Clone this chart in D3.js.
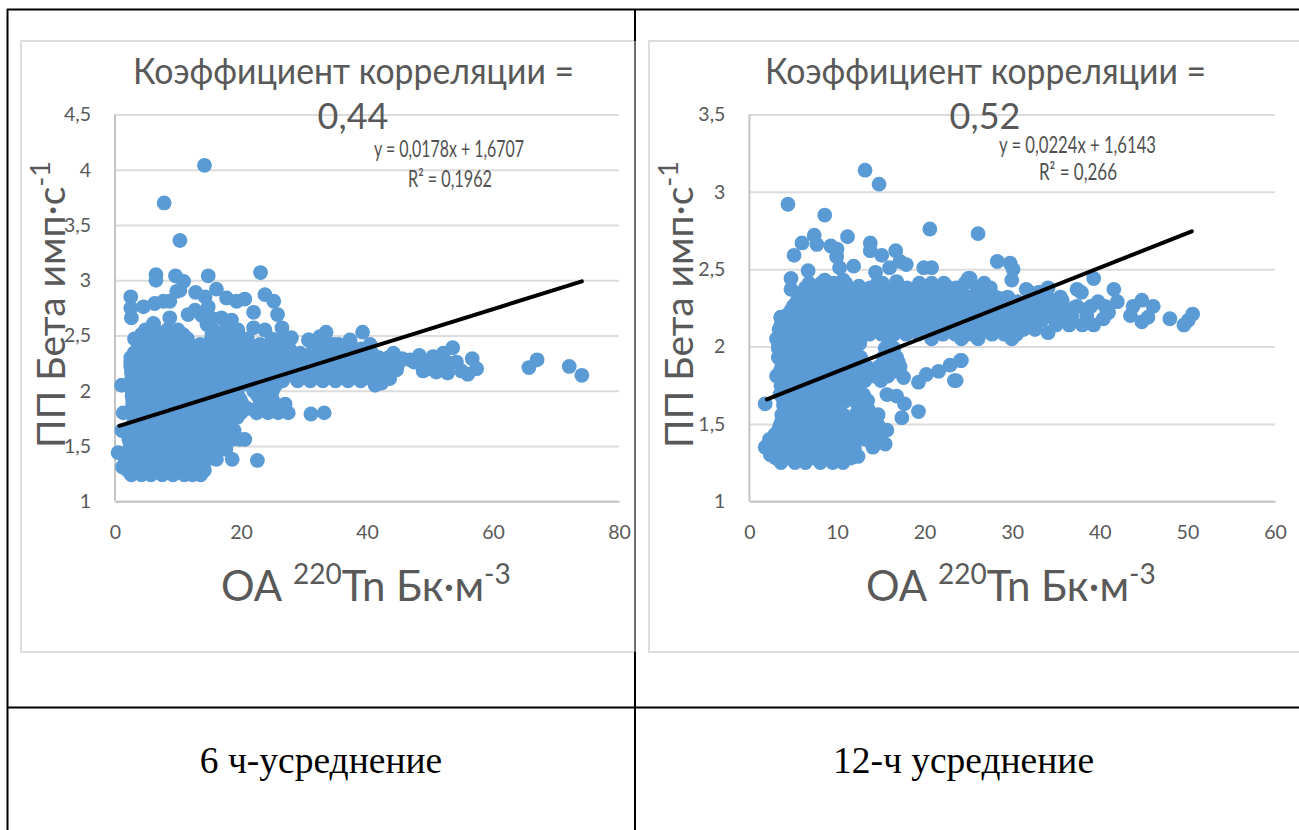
<!DOCTYPE html>
<html lang="ru">
<head>
<meta charset="utf-8">
<script src="https://cdn.jsdelivr.net/npm/d3@7"></script>
<style>
html,body{margin:0;padding:0;background:#fff;overflow:hidden}
svg{display:block}
text{font-family:Lato,"Open Sans",sans-serif;fill:#595959}
</style>
</head>
<body>
<svg id="c" width="1299" height="830"></svg>
<script>
// ---------- Chart 1: 6 h averaging ----------
const xTicks6h = [0,20,40,60,80];
const yTicks6h = [1,1.5,2,2.5,3,3.5,4,4.5];
const trend6h = [[0.7,1.683],[74.1,2.99]];
const outliers6h = [[14.2,4.04],[7.8,3.7],[10.3,3.36],[6.5,3.05],[6.5,3],[9.6,3.04],[14.8,3.04],[23.1,3.07],
[2.5,2.85],[2.5,2.75],[2.6,2.66],[4.5,2.76],[6.3,2.79],[7.7,2.81],[8.7,2.81],[9.8,2.9],[10.9,2.99],[10.3,2.91],
[12.8,2.89],[14.3,2.85],[16.1,2.92],[17.7,2.84],[19.3,2.81],[20.6,2.83],[23.8,2.87],[25.2,2.81],[22,2.71],[25.8,2.69],
[11.6,2.69],[12.7,2.73],[14.8,2.76],[8.7,2.66],[6.1,2.61],[16.9,2.66],[18.5,2.64],[22,2.57],[23.8,2.55],[26.5,2.57],
[28,2.48],[30.7,2.46],[15.2,2.66],[14.6,2.6],[18,2.55],[13.8,2.68],
[74.1,2.14],[72.1,2.22],[67,2.28],[65.7,2.21],[57.4,2.2],[56.7,2.29],[56,2.15],[54.2,2.26],[53.6,2.39],[52.8,2.16],
[51,2.17],[48.9,2.18],[52.1,2.34],[50.5,2.31],[48.3,2.32],[46.8,2.28],[45.6,2.29],[44.2,2.34],[39.3,2.53],[40.5,2.42],
[37.3,2.46],[33.5,2.53],[32.5,2.49],[30.8,2.46],[34.7,2.42],[41.3,2.05],[42.3,2.07],[43.6,2.11],[44.7,2.19],[45,2.25],
[49.5,2.25],[51.5,2.24],[53,2.25],[55,2.18],[47.5,2.26],[50,2.2],
[31.1,1.79],[33.2,1.8],[22.6,1.37],[18.6,1.38],[16.1,1.38],[19.8,1.56],[20.6,1.56],[0.5,1.44]];
const cloud6h = [
[1.24,[2.6,4.2,5.7,7.5,9.2,11,12.3,13.6]],
[1.31,[1.2,3,4.9,6.6,8.5,10.3,12.2,14]],
[1.39,[1.6,3.7,5.6,7.5,9.4,11.3,13.2,15.2]],
[1.47,[2.5,4.5,6.4,8.3,10.2,12.1,14,15.9,17.6]],
[1.56,[2.2,3.6,5.5,7.4,9.3,11.2,13.1,15,16.9,18.6]],
[1.64,[1.1,2.6,4.5,6.4,8.3,10.2,12.1,14,15.9,17.8,18.9]],
[1.72,[3,5,6.9,8.8,10.7,12.6,14.5,16.4,18.3]],
[1.8,[1.3,3,4.7,6.6,8.5,10.4,12.3,14.2,16.1,18,20,22.5,24.3,25.9,27.5]],
[1.88,[2.8,5.6,7.5,9.4,11.3,13.2,15.1,17,18.9,20.2,23,25,27]],
[1.96,[2.7,4.5,6.4,8.3,10.2,12.1,14,15.9,17.8,19.5,22.6,24.2]],
[2.05,[1.05,2.8,4.8,6.7,8.6,10.5,12.4,14.3,16.2,18.1,20,21.9,23.8,25.5]],
[2.13,[2.7,3.9,5.8,7.7,9.6,11.5,13.4,15.3,17.2,19.1,21,22.9,24.8,26.7,28.5,30.2,32,34,36,38,40]],
[2.22,[2.5,4.8,6.7,8.6,10.5,12.4,14.3,16.2,18.1,20,21.9,23.8,25.7,27.6,29.5,31.4,33.3,35.2,37.1,39,40.9,42.6]],
[2.3,[2.5,4,5.8,7.7,9.6,11.5,13.4,15.3,17.2,19.1,21,22.9,24.8,26.7,28.6,30.5,32.4,34.3,36.2,38.1,40,41.9,43.4]],
[2.38,[3.6,5,6.8,8.7,10.6,12.5,14.4,16.3,18.2,20.1,22,23.9,25.8,27.7,31.5,33.4,35.3,37.2,39.1]],
[2.47,[3.1,4.9,5.8,7.7,9.6,11.5,15.3,17.2,19.1,21,24.9,26.3]],
[2.55,[4.8,6.4,8.3,10,15.6,17.5,19.5]]];
const fill6h = [
[1.28,[2,3.8,5.4,7,8.8,10.6,12.4,14.2]],
[1.35,[1.6,2.6,4.6,6.5,8.4,10.3,12.2,14.1]],
[1.43,[1.2,3,5,6.9,8.8,10.7,12.6,14.5]],
[1.52,[2.4,4.2,6.1,8,9.9,11.8,13.7,15.6,17.5]],
[1.6,[2.3,3.4,5.3,7.2,9.1,11,12.9,14.8,16.7,18.2]],
[1.68,[2.7,4.2,6.1,8,9.9,11.8,13.7,15.6,17.5]],
[1.76,[3,4.2,6.1,8,9.9,11.8,13.7,15.6,17.5,19.4]],
[1.84,[2.9,4.2,6.5,8.4,10.3,12.2,14.1,16,17.9,19.6,21,23.9,26.2]],
[1.92,[2.8,4.7,6.6,8.5,10.4,12.3,14.2,16.1,18,19.9,23.6,25]],
[2,[2.7,3.8,5.7,7.6,9.5,11.4,13.3,15.2,17.1,19,22,23.5,25]],
[2.09,[2.6,3.8,5.7,7.6,9.5,11.4,13.3,15.2,17.1,19,20.9,22.8,24.7,26.6,29,31,33,35,37,39,41]],
[2.17,[2.6,5.2,7.1,9,10.9,12.8,14.7,16.6,18.5,20.4,22.3,24.2,26.1,28,29.9,31.8,33.7,35.6,37.5,39.4,41.3,43]],
[2.26,[2.5,3.8,5.7,7.6,9.5,11.4,13.3,15.2,17.1,19,20.9,22.8,24.7,26.6,28.5,30.4,32.3,34.2,36.1,38,39.9,41.8,43.7]],
[2.34,[3,4.7,6.6,8.5,10.4,12.3,14.2,16.1,18,19.9,21.8,23.7,25.6,27.5,29.4,31.3,33.2,35.1,37,38.9,40.8]],
[2.42,[4,5.9,7.8,9.7,11.6,13.5,15.4,17.3,19.2,21.1,23,24.9,26.8,32,33.6,35.5,37.4]],
[2.51,[4.2,6.6,8.5,10.8,15.4,17.3,19.2]]];

// ---------- Chart 2: 12 h averaging ----------
const xTicks12h = [0,10,20,30,40,50,60];
const yTicks12h = [1,1.5,2,2.5,3,3.5];
const trend12h = [[2,1.659],[50.5,2.745]];
const outliers12h = [[13.2,3.14],[14.8,3.05],[4.4,2.92],[8.6,2.85],[20.6,2.76],[7.4,2.72],[6,2.67],[7.7,2.66],[11.2,2.71],
[5.1,2.59],[9.3,2.65],[10,2.63],[9.96,2.58],[13.8,2.67],[13.8,2.62],[15.1,2.59],[16.7,2.62],[17.2,2.55],[17.9,2.53],
[10.3,2.51],[11.9,2.52],[6.7,2.49],[4.75,2.44],[4.75,2.37],[16,2.51],[14.4,2.48],[19.9,2.51],[20.8,2.51],[16.8,2.42],
[12.5,2.39],[8.6,2.43],[10.7,2.43],[25,2.44],[24,2.37],[22.5,2.39],[3.57,2.19],[3.1,2.05],[4.3,2.19],
[26.1,2.73],[28.3,2.55],[29.75,2.54],[30.1,2.5],[29.95,2.43],[39.3,2.44],[41.6,2.37],[42,2.29],[44.8,2.3],[43.8,2.26],
[43.5,2.2],[44.8,2.16],[45.5,2.19],[46.1,2.26],[48,2.18],[50.6,2.21],[49.6,2.14],[50.1,2.17],[40.4,2.18],[39.3,2.14],
[39.8,2.29],[38.5,2.24],[37.4,2.37],[37.9,2.35],[37,2.25],[36.4,2.19],[35.7,2.3],[34.1,2.38],[33.4,2.35],[31.6,2.37],
[34.1,2.09],[33.7,2.19],[25.2,2.44],[26.7,2.37],[27.5,2.35],[28.8,2.31],[40.6,2.26],[41,2.22],[36.2,2.24],
[24.2,1.91],[23.6,1.78],[1.8,1.63],[24.1,1.91],[23.4,1.78],[22.9,1.88],[21.6,1.84],[20.2,1.82],[19.3,1.77],[19.3,1.58],
[17.6,1.8],[17.4,1.54],[17.7,1.63],[16.8,1.68],[15.7,1.69],[12.4,1.29],[15.5,1.37],[14.1,1.35],[15.7,1.46],[14.7,1.56],
[1.8,1.35],[2.4,1.3]];
const cloud12h = [
[1.25,[3.6,5.2,6.4,8.1,9.5,10.7]],
[1.31,[2.5,4.1,5.5,6.9,8.3,9.7,11.1]],
[1.37,[3.4,4.8,6.2,7.6,9,10.4,11.6]],
[1.43,[2.9,4.2,5.6,7,8.4,9.8,11.2,12.6,14,15]],
[1.49,[3.5,4.9,6.3,7.7,9.1,10.5,11.9,13.3,14.7]],
[1.56,[3.7,5.1,6.5,7.9,9.3,10.7,12.1,13.5]],
[1.62,[3.9,5.3,6.7,8.1,9.5,12.4,13.3]],
[1.69,[3.5,4.9,6.3,7.7,9.1,10.5,11.7,13]],
[1.75,[3.6,5,6.4,7.8,9.2,10.6,12.3]],
[1.81,[3.1,4.3,5.7,7.1,8.5,9.9,11.3,12.7,14.3,15.8]],
[1.87,[3.7,5,6.4,7.8,9.2,10.6,12,13.4,14.8,16.2,17.2]],
[1.93,[3.3,4.3,5.7,7.1,8.5,9.9,11.3,12.7,15.3,16.8]],
[1.99,[3.3,5,6.4,7.8,9.2,10.6,12,15.5,16.5]],
[2.05,[3.9,5.3,6.7,8.1,9.5,10.9,12.2,15.9,20.8,24.2,26.1,29.95]],
[2.11,[3.4,4.7,6.1,7.5,8.9,10.3,11.7,13.1,14.5,15.9,17.3,18.7,20.1,21.5,22.9,24.3,25.7,27.1,28.5,29.9,31.3,32.6]],
[2.17,[5.4,6.8,8.2,9.6,11,12.4,13.8,15.2,16.6,18,19.4,20.8,22.2,23.6,25,26.4,27.8,29.2,30.6,32,35,33.4]],
[2.23,[4.7,6.1,7.5,8.9,10.3,11.7,13.1,14.5,15.9,17.3,18.7,20.1,21.5,22.9,24.3,25.7,27.1,28.5,29.9,31.3,32.7,34.1,35.4]],
[2.29,[5.4,6.8,8.2,9.6,11,12.4,13.8,15.2,16.6,18,19.4,20.8,22.2,23.6,25,26.4,27.8,29.2,30.6,32,33.4,34.8]],
[2.35,[6.1,7.5,8.9,10.3,11.7,13.1,14.5,15.9,17.3,18.7,20.1,21.5,22.9,24.3,26,27.1,32,33]],
[2.41,[6.8,8.2,9.6,11,14.6,15.2,19.4,20.8,22.2,24.6,26.8]]];
const fill12h = [
[1.28,[3,4.8,6,7.4,8.8,10.2,11.6]],
[1.34,[2.4,3.9,5.2,6.6,8,9.4,10.8,12]],
[1.4,[2.3,3.6,5,6.4,7.8,9.2,10.6,12,13.2,14.6]],
[1.46,[3.3,4.6,6,7.4,8.8,10.2,11.6,13,14.4]],
[1.52,[3.7,5.6,7,8.4,9.8,11.2,12.6,14]],
[1.59,[4,5.6,7,8.4,9.8,12.8,13.6]],
[1.65,[3.9,5.6,7,8.4,9.8,11,12.2,13.5]],
[1.72,[4.2,5.6,7,8.4,9.8,11.2,12.4]],
[1.78,[3.9,5,6.2,7.6,9,10.4,11.8,13.2,15]],
[1.84,[3.5,5,6.4,7.8,9.2,10.6,12,13.4,14.8,16.4]],
[1.9,[4.4,5.7,7.1,8.5,9.9,11.3,12.2,15.8,17]],
[1.96,[3.8,5,6.4,7.8,9.2,10.6,12,15.8]],
[2.02,[3.3,4.4,5.8,7.2,8.6,10,11.4,12.6]],
[2.08,[3.9,5.3,6.7,8.1,9.5,10.9,12.3,13.7,15.1,16.5,17.9,19.3,20.7,22.1,23.5,24.9,26.3,27.7,29.1,30.5]],
[2.14,[3.6,4.6,6,7.4,8.8,10.2,11.6,13,14.4,15.8,17.2,18.6,20,21.4,22.8,24.2,25.6,27,28.4,29.8,31.2,32.6,35,36.5,38]],
[2.2,[4.2,5.3,6.7,8.1,9.5,10.9,12.3,13.7,15.1,16.5,17.9,19.3,20.7,22.1,23.5,24.9,26.3,27.7,29.1,30.5,31.9,33.3,34.7,36.8,38.5]],
[2.26,[5,6.4,7.8,9.2,10.6,12,13.4,14.8,16.2,17.6,19,20.4,21.8,23.2,24.6,26,27.4,28.8,30.2,31.6,33,34.4,35.8,37.4,39]],
[2.32,[5.7,7.1,8.5,9.9,11.3,12.7,14.1,15.5,16.9,18.3,19.7,21.1,22.5,23.9,25.3,26.7,28.1,29.5,32.5,34,35.5]],
[2.38,[6.4,7.8,9.2,10.6,13.8,15.2,16.6,18,19.4,20.8,22.2,23.6,26,27.5]]];

const rowsToPoints = rows => rows.flatMap(([y, xs]) => xs.map(x => [x, y]));

// ---------- Text ----------
const titleLine1 = "Коэффициент корреляции =";
const titleValue6h = "0,44";
const titleValue12h = "0,52";
const eq6h = ["y = 0,0178x + 1,6707","R² = 0,1962"];
const eq12h = ["y = 0,0224x + 1,6143","R² = 0,266"];
const captions = ["6 ч-усреднение","12-ч усреднение"];

const svg = d3.select("#c");
const comma = d => String(d).replace(".", ",");
const GRID="#dcdcdc", AXIS="#c4c4c4", DOT="#5b9bd5", INK="#595959";

function fitText(g, s, x, y, w, size, anchor){
  return g.append("text").attr("x",x).attr("y",y).attr("font-size",size)
    .attr("text-anchor",anchor||"start").attr("textLength",w)
    .attr("lengthAdjust","spacingAndGlyphs").text(s);
}

function chart(o){
  const g = svg.append("g");
  g.append("rect").attr("x",o.box[0]).attr("y",o.box[1]).attr("width",o.box[2]).attr("height",o.box[3])
    .attr("fill","#fff").attr("stroke","#dedede").attr("stroke-width",2);
  const x = d3.scaleLinear().domain(d3.extent(o.xTicks)).range([o.left,o.right]);
  const y = d3.scaleLinear().domain(d3.extent(o.yTicks)).range([501.3,114.5]);

  const gy = g.append("g").attr("transform",`translate(${o.left},0)`)
    .call(d3.axisLeft(y).tickValues(o.yTicks).tickSize(-(o.right-o.left)).tickPadding(24).tickFormat(comma));
  gy.select(".domain").remove();
  gy.selectAll("line").attr("stroke",GRID).attr("stroke-width",2);
  gy.selectAll("text").attr("font-size",19.5).style("fill",INK).attr("font-family","Lato");

  const gx = g.append("g").attr("transform","translate(0,501.3)")
    .call(d3.axisBottom(x).tickValues(o.xTicks).tickSize(0).tickPadding(24).tickFormat(comma));
  gx.select(".domain").attr("stroke",AXIS).attr("stroke-width",2);
  gx.selectAll("text").attr("font-size",19.5).style("fill",INK).attr("font-family","Lato");
  g.append("line").attr("x1",o.left).attr("x2",o.left).attr("y1",114.5).attr("y2",501.3)
    .attr("stroke",AXIS).attr("stroke-width",2);

  g.append("g").selectAll("circle").data(o.points).join("circle")
    .attr("cx",d=>x(d[0])).attr("cy",d=>y(d[1])).attr("r",7.4).attr("fill",DOT);

  g.append("path").attr("d",d3.line().x(d=>x(d[0])).y(d=>y(d[1]))(o.trend))
    .attr("stroke","#000").attr("stroke-width",4).attr("stroke-linecap","round").attr("fill","none");

  fitText(g,titleLine1,o.title[0],84,o.title[1],36);
  g.append("text").attr("x",o.valueX).attr("y",129).attr("text-anchor","middle").attr("font-size",36).text(o.value);

  fitText(g,o.eq[0],o.eqPos[0],o.eqPos[1],o.eqPos[2],24).style("fill","#505050");
  fitText(g,o.eq[1],o.eqPos[3],o.eqPos[4],o.eqPos[5],24).style("fill","#505050");

  // X axis title
  const xt = g.append("text").attr("x",o.xTitle).attr("y",601).attr("font-size",42);
  xt.append("tspan").text("ОА ");
  xt.append("tspan").attr("font-size",28).attr("dy",-17).text("220");
  xt.append("tspan").attr("dy",17).text("Tn Бк·м");
  xt.append("tspan").attr("font-size",28).attr("dy",-17).text("-3");

  // Y axis title
  const yt = g.append("text").attr("transform",`translate(${o.yTitle},448) rotate(-90)`).attr("font-size",39);
  yt.append("tspan").text("ПП Бета имп·с");
  yt.append("tspan").attr("font-size",27).attr("dy",-15).text("-1");
}

chart({box:[21,41,614,611],left:115,right:619,xTicks:xTicks6h,yTicks:yTicks6h,
  points:rowsToPoints(cloud6h).concat(rowsToPoints(fill6h),outliers6h),trend:trend6h,
  title:[133,441],valueX:353,value:titleValue6h,eq:eq6h,eqPos:[374,157,150,408,187,84],xTitle:221,yTitle:65});
chart({box:[649,41,660,611],left:749.4,right:1275,xTicks:xTicks12h,yTicks:yTicks12h,
  points:rowsToPoints(cloud12h).concat(rowsToPoints(fill12h),outliers12h),trend:trend12h,
  title:[765,441],valueX:985,value:titleValue12h,eq:eq12h,eqPos:[999,153,157,1039,180,78],xTitle:866,yTitle:693});

// ---------- Table rules ----------
const rules = [[7,9.5,1299,9.5,2],[7.5,9,7.5,830,2],[7,707.5,1299,707.5,2],[635,9,635,41,2],[635,41,635,652,1],[635,652,635,830,2]];
svg.append("g").selectAll("line").data(rules).join("line")
  .attr("x1",d=>d[0]).attr("y1",d=>d[1]).attr("x2",d=>d[2]).attr("y2",d=>d[3])
  .attr("stroke","#000").attr("stroke-width",d=>d[4]);

svg.append("g").selectAll("text").data(captions).join("text")
  .attr("x",(d,i)=>[321,963.5][i]).attr("y",773).attr("text-anchor","middle")
  .attr("font-size",37.5).style("font-family","'Liberation Serif',serif").style("fill","#000").text(d=>d);
</script>
</body>
</html>
